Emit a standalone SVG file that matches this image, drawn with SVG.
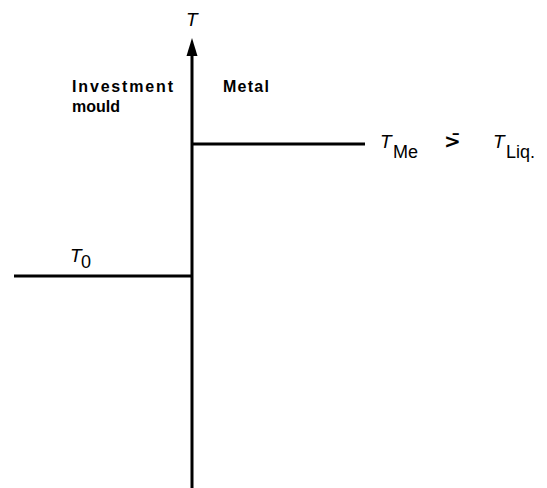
<svg xmlns="http://www.w3.org/2000/svg" width="547" height="488" viewBox="0 0 547 488">
<style>
.ln{stroke:#000;stroke-width:3;fill:none}
.lbl{font-family:"Liberation Sans",Arial,sans-serif;font-size:16px;font-weight:bold;fill:#000}
.sym{font-family:"Liberation Sans",Arial,sans-serif;font-size:19px;font-style:italic;fill:#000}
.sub{font-family:"Liberation Sans",Arial,sans-serif;font-size:18px;fill:#000}
.rel{font-family:"DejaVu Sans",sans-serif;font-size:20px;font-weight:bold;fill:#000}
</style>
<rect width="547" height="488" fill="#fff"/>
<g id="connectors">
<line class="ln" x1="192" y1="52" x2="192" y2="488"/>
<polygon points="192,38 186.5,56 197.5,56" fill="#000"/>
<line class="ln" x1="192" y1="144" x2="365" y2="144"/>
<line class="ln" x1="14" y1="276" x2="192" y2="276"/>
</g>
<g id="axis-label"><text class="sym" x="186" y="26">T</text></g>
<g id="investment-mould">
<text class="lbl" x="72" y="92" textLength="101" lengthAdjust="spacing">Investment</text>
<text class="lbl" x="72" y="112">mould</text>
</g>
<g id="metal"><text class="lbl" x="223" y="92" textLength="46" lengthAdjust="spacing">Metal</text></g>
<g id="t-me">
<text class="sym" x="380" y="148">T</text><text class="sub" x="393" y="158">Me</text>
<text class="rel" x="444" y="148">&gt;&#x304;</text>
<text class="sym" x="493" y="148">T</text><text class="sub" x="506" y="158">Liq.</text>
</g>
<g id="t-zero"><text class="sym" x="70" y="262">T</text><text class="sub" x="81" y="268">0</text></g>
</svg>
